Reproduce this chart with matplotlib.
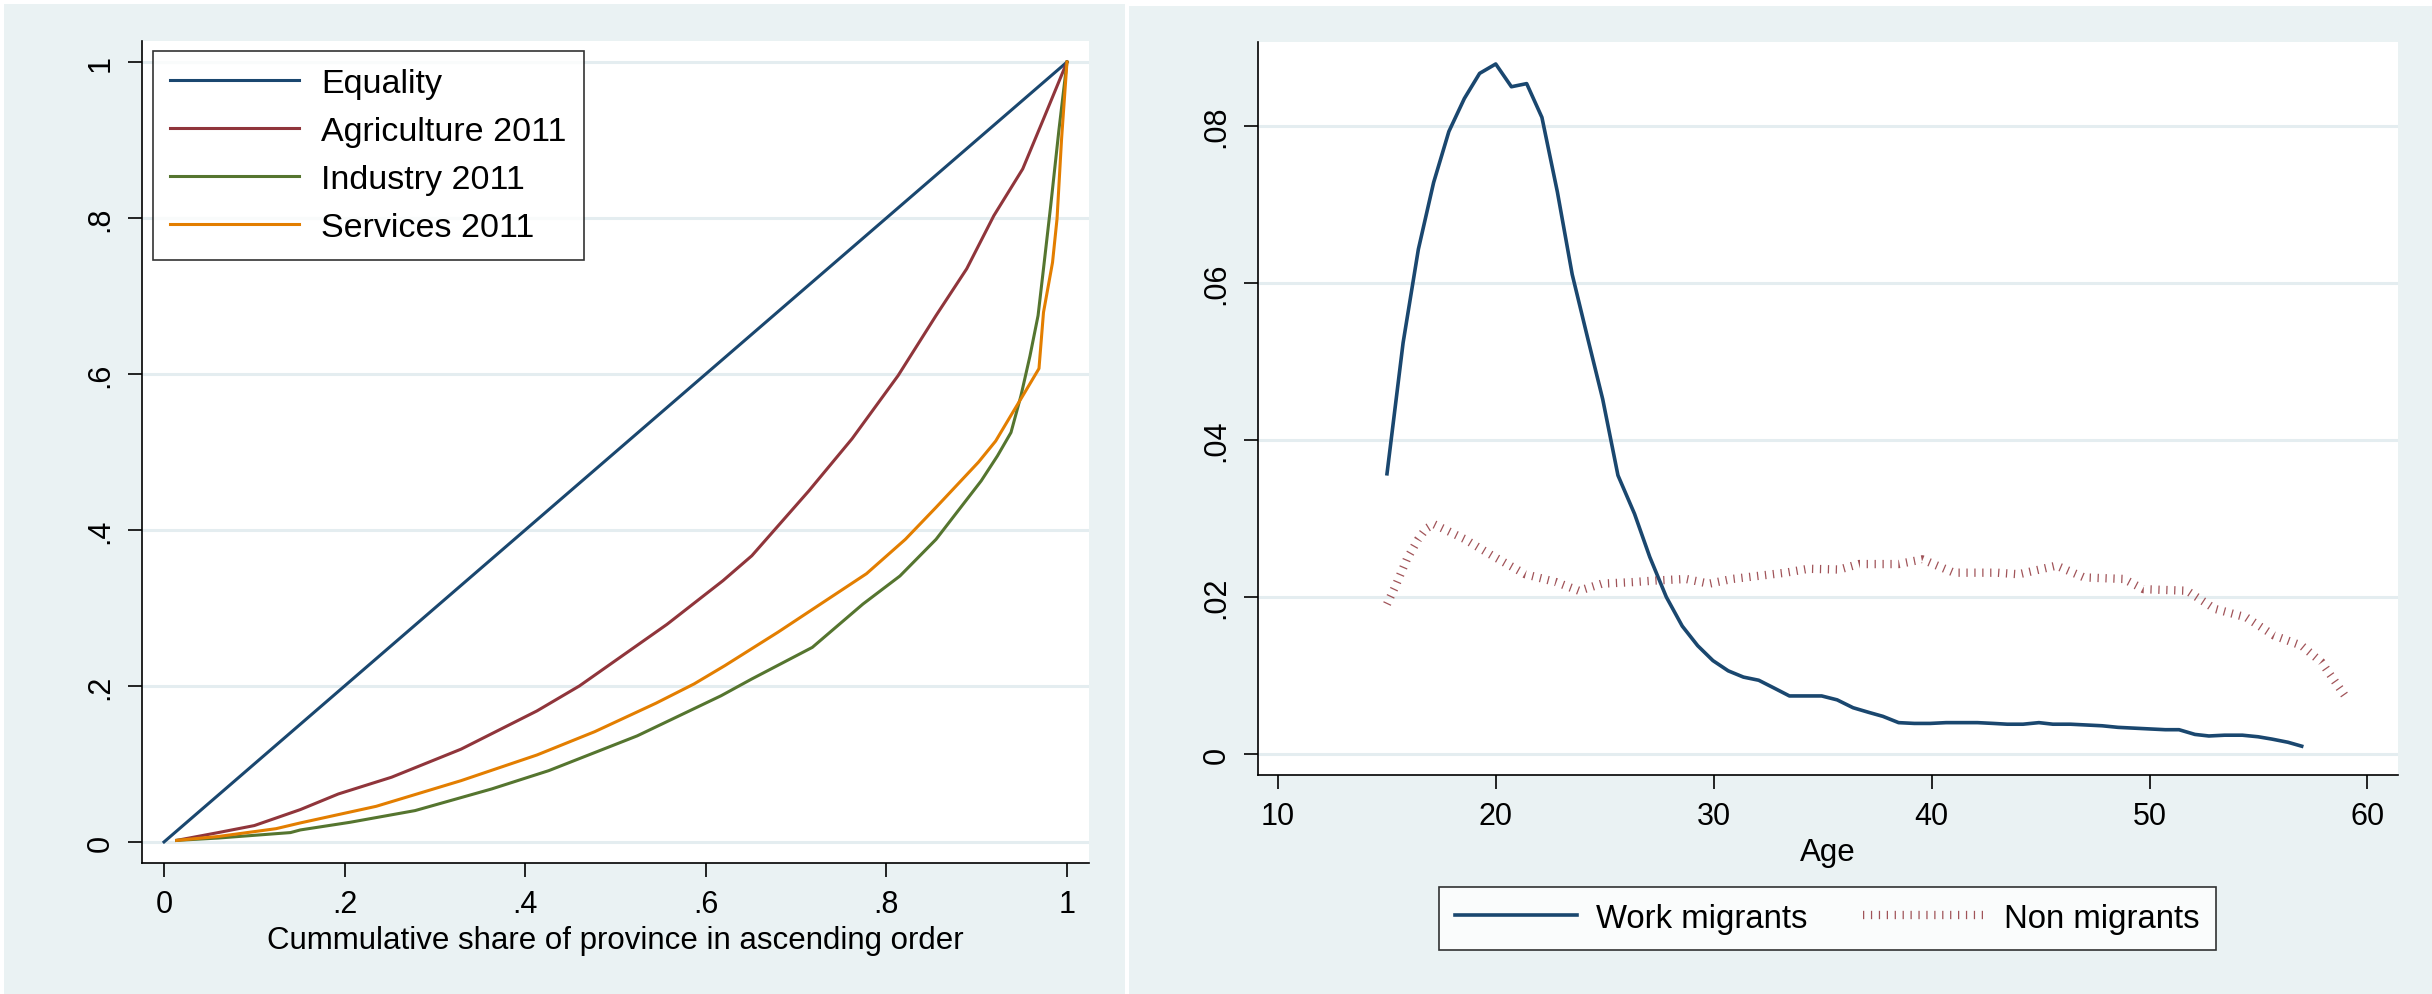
import matplotlib
matplotlib.use("Agg")
import matplotlib.pyplot as plt
from matplotlib.patches import Rectangle

plt.rcParams['font.family'] = ['Liberation Sans', 'DejaVu Sans']

# Left panel: Lorenz curves
equality_x = [0.0, 1.0]
equality_y = [0.0, 1.0]

agri_x = [0.014, 0.06, 0.10, 0.151, 0.193, 0.252, 0.329, 0.413, 0.46, 0.557, 0.619,
          0.651, 0.714, 0.762, 0.813, 0.855, 0.889, 0.919, 0.951, 0.974, 1.0]
agri_y = [0.002, 0.012, 0.021, 0.0415, 0.0615, 0.083, 0.119, 0.168, 0.200, 0.279, 0.335,
          0.367, 0.450, 0.517, 0.598, 0.675, 0.735, 0.803, 0.863, 0.927, 1.0]

serv_x = [0.014, 0.06, 0.124, 0.151, 0.235, 0.329, 0.413, 0.477, 0.545, 0.587, 0.621, 0.68,
          0.778, 0.821, 0.855, 0.902, 0.921, 0.938, 0.951, 0.969, 0.974, 0.984, 0.989, 0.994, 1.0]
serv_y = [0.002, 0.007, 0.017, 0.0244, 0.0457, 0.0786, 0.1115, 0.1414, 0.178, 0.2026, 0.226, 0.269,
          0.344, 0.388, 0.429, 0.487, 0.514, 0.547, 0.572, 0.607, 0.679, 0.743, 0.799, 0.901, 1.0]

ind_x = [0.014, 0.06, 0.14, 0.151, 0.206, 0.278, 0.363, 0.426, 0.524, 0.617, 0.651, 0.718, 0.774,
         0.815, 0.855, 0.881, 0.905, 0.923, 0.938, 0.949, 0.959, 0.968, 0.974, 0.982, 0.991, 1.0]
ind_y = [0.002, 0.005, 0.012, 0.0154, 0.0252, 0.0402, 0.068, 0.0914, 0.136, 0.1875, 0.209, 0.2495, 0.305,
         0.341, 0.388, 0.427, 0.463, 0.495, 0.525, 0.572, 0.623, 0.675, 0.735, 0.816, 0.912, 1.0]

lorenz_ticks = [0, 0.2, 0.4, 0.6, 0.8, 1.0]
lorenz_labels = ['0', '.2', '.4', '.6', '.8', '1']

# Right panel: age densities
work_age = [15.0, 15.74, 16.44, 17.14, 17.84, 18.55, 19.25, 19.99, 20.71, 21.41,
            22.11, 22.82, 23.5, 24.2, 24.9, 25.6, 26.36, 27.06, 27.82, 28.55,
            29.26, 29.96, 30.66, 31.36, 32.06, 32.77, 33.47, 34.17, 34.95, 35.66,
            36.39, 37.12, 37.76, 38.48, 39.2, 39.93, 40.66, 41.38, 42.1, 42.83,
            43.47, 44.19, 44.92, 45.56, 46.37, 47.1, 47.82, 48.55, 49.27, 49.99,
            50.72, 51.35, 52.08, 52.72, 53.44, 54.26, 54.98, 55.62, 56.35, 56.98]
work_dens = [0.0357, 0.0524, 0.0643, 0.0728, 0.0793, 0.0835, 0.0867, 0.0879, 0.0850, 0.0854,
             0.0811, 0.0716, 0.0611, 0.0531, 0.0452, 0.0355, 0.0306, 0.0251, 0.0200, 0.0163,
             0.0138, 0.0119, 0.0106, 0.0098, 0.0094, 0.0084, 0.0074, 0.0074, 0.0074, 0.0069,
             0.0059, 0.0053, 0.0048, 0.0040, 0.0039, 0.0039, 0.0040, 0.0040, 0.0040, 0.0039,
             0.0038, 0.0038, 0.0040, 0.0038, 0.0038, 0.0037, 0.0036, 0.0034, 0.0033, 0.0032,
             0.0031, 0.0031, 0.0025, 0.0023, 0.0024, 0.0024, 0.0022, 0.0019, 0.0015, 0.0010]

non_age = [15.0, 15.39, 15.91, 16.44, 16.79, 17.14, 18.55, 19.94, 21.35, 22.76,
           23.81, 24.86, 26.27, 27.32, 28.73, 29.78, 30.84, 32.06, 33.29, 34.34,
           35.75, 36.66, 38.48, 39.57, 41.02, 43.0, 44.0, 45.73, 46.99, 48.82,
           49.72, 51.72, 52.99, 54.44, 55.71, 56.98, 57.89, 58.97]
non_dens = [0.0191, 0.0214, 0.0248, 0.0274, 0.0287, 0.0293, 0.0274, 0.0251, 0.0229, 0.0219,
            0.0208, 0.0217, 0.0219, 0.0221, 0.0223, 0.0217, 0.0223, 0.0227, 0.0231, 0.0236,
            0.0235, 0.0242, 0.0242, 0.0248, 0.0231, 0.0231, 0.0229, 0.0240, 0.0225, 0.0223,
            0.0210, 0.0208, 0.0185, 0.0174, 0.0151, 0.0138, 0.0117, 0.0074]

age_ticks = [10, 20, 30, 40, 50, 60]
dens_ticks = [0, 0.02, 0.04, 0.06, 0.08]
dens_labels = ['0', '.02', '.04', '.06', '.08']

NAVY = '#1A476F'
MAROON = '#90353B'
GREEN = '#55752F'
ORANGE = '#E37E00'
BG = '#EAF2F3'
GRID = '#E4EDF0'

W, H = 2432, 995
fig = plt.figure(figsize=(W / 100, H / 100), dpi=100, facecolor='white')

# panel backgrounds (pixel boxes -> figure fractions)
for x0, y0, x1, y1 in [(4, 5, 1125, 995), (1129, 7, 2432, 995)]:
    fig.patches.append(Rectangle((x0 / W, 1 - y1 / H), (x1 - x0) / W, (y1 - y0) / H,
                                 transform=fig.transFigure, facecolor=BG, edgecolor='none', zorder=-10))


def style_axis(ax):
    ax.set_facecolor('white')
    for s in ['top', 'right']:
        ax.spines[s].set_visible(False)
    for s in ['left', 'bottom']:
        ax.spines[s].set_linewidth(1.2)
        ax.spines[s].set_color('black')
    ax.tick_params(direction='out', length=10, width=1.2, labelsize=22, pad=9)
    ax.yaxis.grid(True, color=GRID, lw=2.2)
    ax.set_axisbelow(True)
    for lab in ax.get_yticklabels():
        lab.set_rotation(90)
        lab.set_va('center')


ax1 = fig.add_axes([142 / W, 1 - 864 / H, (1089 - 142) / W, (864 - 42) / H])
ax1.plot(equality_x, equality_y, color=NAVY, lw=2.2, label='Equality')
ax1.plot(agri_x, agri_y, color=MAROON, lw=2.2, label='Agriculture 2011')
ax1.plot(ind_x, ind_y, color=GREEN, lw=2.2, label='Industry 2011')
ax1.plot(serv_x, serv_y, color=ORANGE, lw=2.2, label='Services 2011')
ax1.set_xlim(-0.0244, 1.0244)
ax1.set_ylim(-0.027, 1.027)
ax1.set_xticks(lorenz_ticks, lorenz_labels)
ax1.set_yticks(lorenz_ticks, lorenz_labels)
style_axis(ax1)
ax1.set_xlabel('Cummulative share of province in ascending order', fontsize=22.5, labelpad=4)
leg1 = ax1.legend(loc='upper left', bbox_to_anchor=(11 / 947, 1 - 10 / 822), borderaxespad=0,
                  fontsize=24.5, fancybox=False, frameon=True, handlelength=3.8, handletextpad=0.65,
                  labelspacing=0.5, borderpad=0.5)
leg1.get_frame().set_edgecolor('black')
leg1.get_frame().set_linewidth(1.2)

ax2 = fig.add_axes([1258 / W, 1 - 776 / H, (2398 - 1258) / W, (776 - 43) / H])
ax2.plot(work_age, work_dens, color=NAVY, lw=2.6, label='Work migrants')
ax2.plot(non_age, non_dens, color=MAROON, lw=6, ls=(0, (0.15, 0.8)), alpha=0.85,
         label='Non migrants')
ax2.set_xlim(9.08, 61.4)
ax2.set_ylim(-0.00267, 0.0907)
ax2.set_xticks(age_ticks, [str(a) for a in age_ticks])
ax2.set_yticks(dens_ticks, dens_labels)
style_axis(ax2)
ax2.set_xlabel('Age', fontsize=22.5, labelpad=4)
leg2 = ax2.legend(loc='center', bbox_to_anchor=(1827.5 / W, 1 - 919.5 / H),
                  bbox_transform=fig.transFigure, ncol=2, fontsize=23.7, fancybox=False,
                  handlelength=3.7, handletextpad=0.58, columnspacing=1.7, borderpad=0.5)
leg2.get_frame().set_edgecolor('black')
leg2.get_frame().set_linewidth(1.2)

fig.savefig('out.png', dpi=100, facecolor='white')
